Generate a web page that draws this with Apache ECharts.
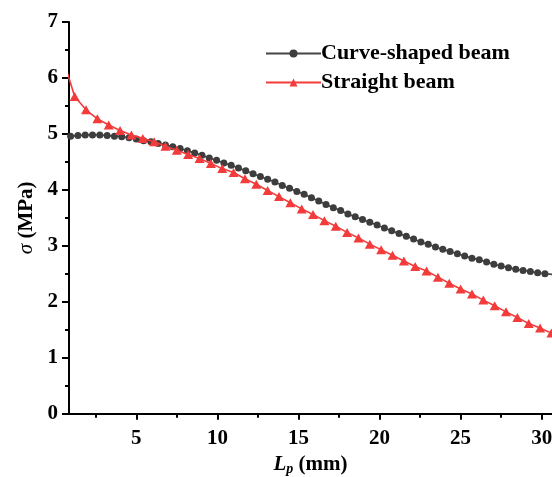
<!DOCTYPE html>
<html>
<head>
<meta charset="utf-8">
<script src="https://cdn.jsdelivr.net/npm/echarts@6/dist/echarts.min.js"></script>
<style>
  html, body { margin: 0; padding: 0; background: #fff; }
  #chart { width: 552px; height: 477px; }
</style>
</head>
<body>
<div id="chart"></div>
<script>
// Stress sigma (MPa) against length Lp (mm) for two beam shapes
const curveX = [0.50, 0.95, 1.40, 1.85, 2.30, 2.75, 3.20, 3.65, 4.10, 4.55,
  5.00, 5.45, 5.90, 6.35, 6.80, 7.25, 7.70, 8.15, 8.60, 9.05,
  9.50, 9.95, 10.40, 10.85, 11.30, 11.75, 12.20, 12.65, 13.10, 13.55,
  14.00, 14.45, 14.90, 15.35, 15.80, 16.25, 16.70, 17.15, 17.60, 18.05,
  18.50, 18.95, 19.40, 19.85, 20.30, 20.75, 21.20, 21.65, 22.10, 22.55,
  23.00, 23.45, 23.90, 24.35, 24.80, 25.25, 25.70, 26.15, 26.60, 27.05,
  27.50, 27.95, 28.40, 28.85, 29.30, 29.75, 30.20, 30.65];
const curveY = [4.94, 4.96, 4.97, 4.98, 4.98, 4.98, 4.97, 4.96, 4.95, 4.93,
  4.91, 4.88, 4.86, 4.83, 4.80, 4.77, 4.74, 4.70, 4.66, 4.62,
  4.57, 4.53, 4.48, 4.44, 4.39, 4.34, 4.29, 4.24, 4.19, 4.14,
  4.08, 4.03, 3.97, 3.92, 3.86, 3.80, 3.74, 3.68, 3.63, 3.57,
  3.52, 3.47, 3.42, 3.37, 3.32, 3.27, 3.22, 3.17, 3.12, 3.07,
  3.03, 2.98, 2.94, 2.90, 2.86, 2.82, 2.78, 2.75, 2.71, 2.67,
  2.64, 2.61, 2.58, 2.56, 2.54, 2.52, 2.50, 2.49];

const straightX = [0.5, 1.2, 1.9, 2.6, 3.3, 4.0, 4.7, 5.4, 6.1, 6.8,
  7.5, 8.2, 8.9, 9.6, 10.3, 11.0, 11.7, 12.4, 13.1, 13.8,
  14.5, 15.2, 15.9, 16.6, 17.3, 18.0, 18.7, 19.4, 20.1, 20.8,
  21.5, 22.2, 22.9, 23.6, 24.3, 25.0, 25.7, 26.4, 27.1, 27.8,
  28.5, 29.2, 29.9, 30.6];
const straightY = [6.32, 5.67, 5.43, 5.27, 5.16, 5.06, 4.98, 4.92, 4.86, 4.78,
  4.71, 4.63, 4.56, 4.47, 4.38, 4.31, 4.20, 4.10, 3.99, 3.88,
  3.77, 3.66, 3.56, 3.45, 3.35, 3.24, 3.14, 3.03, 2.93, 2.83,
  2.73, 2.63, 2.55, 2.44, 2.33, 2.23, 2.14, 2.03, 1.93, 1.82,
  1.72, 1.61, 1.53, 1.44];

const seriesNames = ['Curve-shaped beam', 'Straight beam'];
const xMajorTicks = [5, 10, 15, 20, 25, 30];
const xMinorTicks = [2.5, 7.5, 12.5, 17.5, 22.5, 27.5];
const xRange = [0.85, 30.635];
const yRange = [0, 7];

const zip = (xs, ys) => xs.map((x, i) => [x, ys[i]]);

const FONT = '"Liberation Serif", "Times New Roman", serif';

const chart = echarts.init(document.getElementById('chart'), null, { renderer: 'canvas' });

chart.setOption({
  backgroundColor: '#ffffff',
  animation: false,
  grid: { left: 69, right: 0, top: 22, bottom: 63.3, containLabel: false, outerBoundsMode: 'none' },
  legend: {
    left: 260, top: 37.5, orient: 'vertical',
    itemWidth: 55, itemHeight: 10, itemGap: 7,
    textStyle: { fontFamily: FONT, fontWeight: 'bold', fontSize: 22, color: '#000', padding: [0, 0, 0, -5] },
    data: seriesNames
  },
  xAxis: [{
    type: 'value', min: xRange[0], max: xRange[1],
    name: '{i|L}{sub|p}{b| (mm)}', nameLocation: 'middle', nameGap: 38,
    nameTextStyle: {
      rich: {
        i: { fontFamily: FONT, fontStyle: 'italic', fontWeight: 'bold', fontSize: 21, color: '#000' },
        sub: { fontFamily: FONT, fontStyle: 'italic', fontWeight: 'bold', fontSize: 14, color: '#000', padding: [10, 0, 0, 0] },
        b: { fontFamily: FONT, fontWeight: 'bold', fontSize: 21, color: '#000' }
      }
    },
    axisLine: { show: true, onZero: false, lineStyle: { color: '#000', width: 2 } },
    axisTick: { show: true, inside: false, length: 6, customValues: xMajorTicks, lineStyle: { color: '#000', width: 2 } },
    axisLabel: { customValues: xMajorTicks, margin: 14, fontFamily: FONT, fontWeight: 'bold', fontSize: 21, color: '#000' },
    splitLine: { show: false }
  }, {
    type: 'value', min: xRange[0], max: xRange[1], position: 'bottom',
    axisLine: { show: false },
    axisTick: { show: true, inside: false, length: 4, customValues: xMinorTicks, lineStyle: { color: '#000', width: 2 } },
    axisLabel: { show: false },
    splitLine: { show: false }
  }],
  yAxis: {
    type: 'value', min: yRange[0], max: yRange[1], interval: 1,
    name: '{i|σ}{b| (MPa)}', nameLocation: 'middle', nameGap: 31,
    nameTextStyle: {
      rich: {
        i: { fontFamily: FONT, fontStyle: 'italic', fontSize: 21, color: '#000' },
        b: { fontFamily: FONT, fontWeight: 'bold', fontSize: 21, color: '#000' }
      }
    },
    axisLine: { show: true, lineStyle: { color: '#000', width: 2 } },
    axisTick: { show: true, inside: false, length: 7, lineStyle: { color: '#000', width: 2 } },
    minorTick: { show: true, splitNumber: 2, length: 4, lineStyle: { color: '#000', width: 2 } },
    axisLabel: { margin: 11, fontFamily: FONT, fontWeight: 'bold', fontSize: 21, color: '#000' },
    splitLine: { show: false }
  },
  series: [{
    name: seriesNames[0], type: 'line', xAxisIndex: 0,
    data: zip(curveX, curveY),
    symbol: 'circle', symbolSize: 7,
    lineStyle: { color: '#444444', width: 1.6 },
    itemStyle: { color: '#3d3d3d' },
    clip: true, z: 2
  }, {
    name: seriesNames[1], type: 'line', xAxisIndex: 0,
    data: zip(straightX, straightY),
    symbol: 'triangle', symbolSize: [10, 9],
    lineStyle: { color: '#f23b3b', width: 1.6 },
    itemStyle: { color: '#f23b3b' },
    clip: true, z: 3
  }]
});
</script>
</body>
</html>
